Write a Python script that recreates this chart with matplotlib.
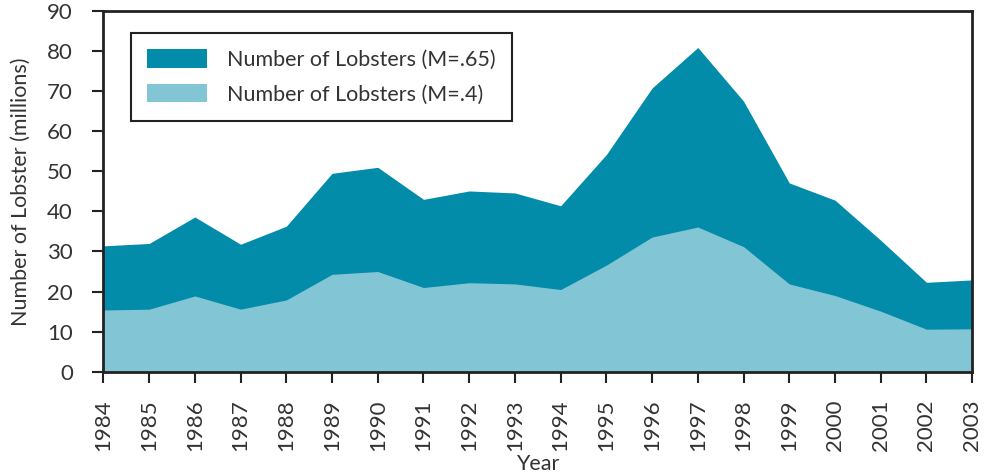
import matplotlib
matplotlib.use("Agg")
import matplotlib.pyplot as plt

plt.rcParams['font.family'] = ['Lato', 'DejaVu Sans']

years = list(range(1984, 2004))
lobsters_m65 = [31.4, 32.0, 38.6, 31.8, 36.3, 49.5, 51.0, 43.0, 45.1, 44.6,
                41.4, 54.2, 70.8, 80.9, 67.5, 47.1, 42.8, 32.8, 22.3, 22.9]
lobsters_m40 = [15.4, 15.6, 18.9, 15.6, 17.9, 24.3, 25.0, 21.0, 22.2, 21.9,
                20.5, 26.6, 33.6, 36.1, 31.2, 21.9, 19.0, 15.1, 10.6, 10.7]
labels = ["Number of Lobsters (M=.65)", "Number of Lobsters (M=.4)"]

dark = "#028ca9"
light = "#82c5d5"
txt = "#333333"

fig = plt.figure(figsize=(9.85, 4.75), dpi=100)
ax = fig.add_axes([0.105, 0.2175, 0.882, 0.7593])

ax.fill_between(years, 0, lobsters_m65, color=dark, lw=0, label=labels[0])
ax.fill_between(years, 0, lobsters_m40, color=light, lw=0, label=labels[1])

ax.set_xlim(1984, 2003)
ax.set_ylim(0, 90)
ax.set_xticks(years)
ax.set_xticklabels([str(y) for y in years], rotation=90)
ax.set_yticks(range(0, 91, 10))
ax.tick_params(axis='both', direction='out', length=8, width=1.5,
               colors='#222222', labelcolor=txt, labelsize=16)
ax.tick_params(axis='x', pad=12)
ax.tick_params(axis='y', pad=14)

for side in ['left', 'bottom', 'top', 'right']:
    ax.spines[side].set_linewidth(2)
    ax.spines[side].set_color('#222222')

ax.set_xlabel("Year", fontsize=15.5, color=txt, labelpad=2)
ax.set_ylabel("Number of Lobster (millions)", fontsize=15.5, color=txt)
ax.yaxis.set_label_coords(-0.084, 0.5)

leg = ax.legend(loc='upper left', bbox_to_anchor=(0.0317, 0.939), borderaxespad=0,
                fancybox=False, edgecolor='#222222', fontsize=15.5,
                handlelength=2.8, handleheight=0.95, labelspacing=0.65,
                handletextpad=0.9, borderpad=0.75, framealpha=1)
leg.get_frame().set_linewidth(1.5)
for t in leg.get_texts():
    t.set_color(txt)

fig.savefig("out.png", dpi=100)
